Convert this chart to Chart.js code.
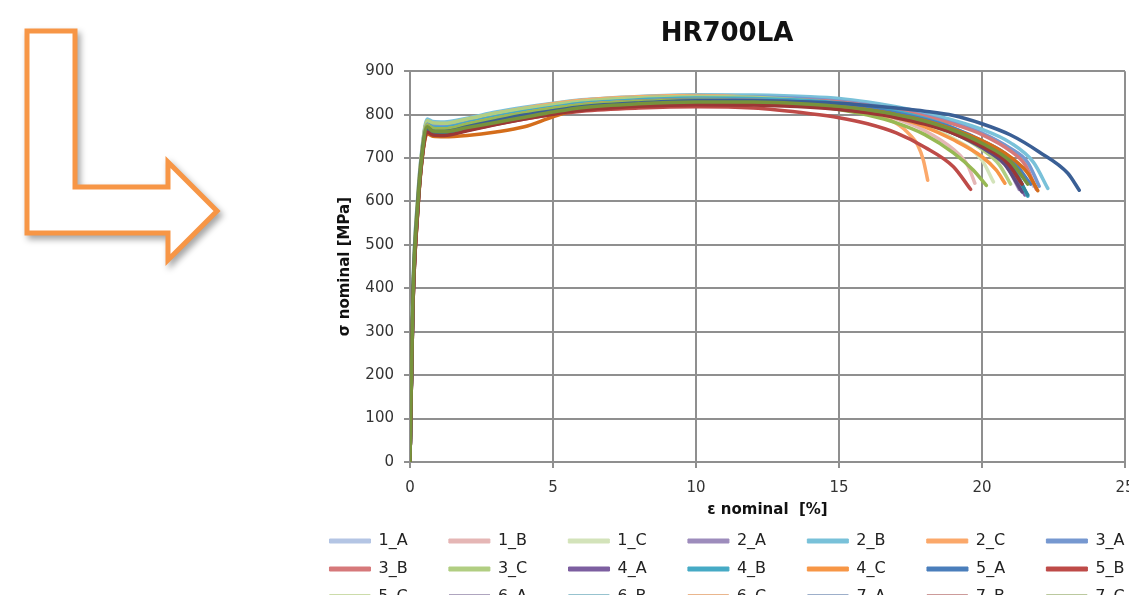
<!DOCTYPE html>
<html>
<head>
<meta charset="utf-8">
<script src="https://cdn.jsdelivr.net/npm/chart.js@4.4.1/dist/chart.umd.min.js"></script>
<style>
  html, body { margin: 0; padding: 0; width: 1129px; height: 595px; overflow: hidden; background: #fff; }
  #arrow { position: absolute; left: 0; top: 0; }
  #wrap { position: absolute; left: 277px; top: 0; width: 900px; height: 615px; }
</style>
</head>
<body>
<svg id="arrow" width="260" height="290">
  <polygon points="27,31 75,31 75,187 168,187 168,162 217,211 168,260 168,233 27,233"
    fill="#fff" stroke="#F79646" stroke-width="5" stroke-linejoin="miter"
    style="filter: drop-shadow(3px 4px 3px rgba(0,0,0,0.35))"/>
</svg>
<div id="wrap"><canvas id="chart"></canvas></div>
<script>
// series names (legend)
const seriesNames = ["1_A", "1_B", "1_C", "2_A", "2_B", "2_C", "3_A", "3_B", "3_C",
  "4_A", "4_B", "4_C", "5_A", "5_B", "5_C", "6_A", "6_B", "6_C", "7_A", "7_B", "7_C"];

const seriesColors = ["#B4C5E4", "#E5B6B5", "#D3E3BA", "#9D8CBC", "#79C1D9", "#FBA86A", "#7698D0",
  "#D6797A", "#B1CE82", "#7D5FA0", "#46AAC5", "#F79646", "#4A7EBB", "#BE4B48", "#98B954",
  "#5F4A7E", "#2F879E", "#D46D1B", "#3A5F95", "#9B3735", "#77933C"];

// x ticks / y ticks
const xTicks = [0, 5, 10, 15, 20, 25];
const yTicks = [0, 100, 200, 300, 400, 500, 600, 700, 800, 900];

// [strain %, stress MPa]
const s1A = [[0,0],[0.1,380],[0.27,600],[0.42,715],[0.6,786],[0.8,781],[1.2,780],[2,789],[3,802],[4,814],[5,824],[6,832],[8,840],[10,844],[12,843],[14,838],[15,833],[16,825],[17,814],[18,800],[19,782],[20,758],[21,720],[21.5,690],[21.8,635]];
const s1B = [[0,0],[0.1,370],[0.27,590],[0.42,710],[0.6,778],[0.8,771],[1.2,770],[2,781],[3,795],[4,807],[5,817],[6,826],[8,834],[10,838],[12,836],[14,828],[15,820],[16,808],[17,790],[18,763],[19,720],[19.5,683],[19.75,642]];
const s1C = [[0,0],[0.1,385],[0.27,605],[0.42,718],[0.6,784],[0.8,779],[1.2,778],[2,788],[3,801],[4,812],[5,822],[6,830],[8,838],[10,842],[12,840],[14,832],[15,825],[16,813],[17,797],[18,776],[19,745],[20,695],[20.4,645]];
const s2A = [[0,0],[0.1,360],[0.27,585],[0.42,705],[0.6,774],[0.8,766],[1.2,765],[2,776],[3,790],[4,802],[5,812],[6,821],[8,830],[10,834],[12,833],[14,827],[15,821],[16,812],[17,799],[18,783],[19,761],[20,728],[20.8,688],[21.3,628]];
const s2B = [[0,0],[0.1,390],[0.27,610],[0.42,722],[0.6,790],[0.8,784],[1.2,783],[2,792],[3,806],[4,817],[5,826],[6,834],[8,842],[10,846],[12,845],[14,841],[15,837],[16,829],[17,818],[18,804],[19,787],[20,766],[21,735],[21.8,690],[22.3,630]];
const s2C = [[0,0],[0.1,375],[0.27,600],[0.42,716],[0.6,785],[0.8,780],[1.2,779],[2,789],[3,803],[4,815],[5,825],[6,833],[8,841],[10,844],[12,840],[14,828],[15,818],[16,803],[17,780],[17.5,752],[17.75,730],[17.95,695],[18.1,649]];
const s3A = [[0,0],[0.1,380],[0.27,598],[0.42,712],[0.6,782],[0.8,776],[1.2,775],[2,785],[3,799],[4,811],[5,821],[6,829],[8,838],[10,842],[12,841],[14,836],[15,831],[16,823],[17,812],[18,798],[19,780],[20,757],[21,722],[21.6,690],[22,635]];
const s3B = [[0,0],[0.1,365],[0.27,590],[0.42,708],[0.6,776],[0.8,769],[1.2,768],[2,779],[3,793],[4,805],[5,815],[6,824],[8,833],[10,838],[12,837],[14,833],[15,829],[16,821],[17,810],[18,796],[19,778],[20,754],[21,716],[21.5,685],[21.9,628]];
const s3C = [[0,0],[0.1,385],[0.27,605],[0.42,718],[0.6,786],[0.8,781],[1.2,780],[2,790],[3,803],[4,814],[5,823],[6,831],[8,839],[10,842],[12,840],[14,832],[15,825],[16,815],[17,801],[18,783],[19,758],[20,720],[20.6,685],[21,640]];
const s4A = [[0,0],[0.1,360],[0.27,585],[0.42,705],[0.6,772],[0.8,764],[1.2,763],[2,774],[3,788],[4,800],[5,810],[6,819],[8,828],[10,832],[12,831],[14,826],[15,821],[16,813],[17,801],[18,785],[19,762],[20,728],[20.9,685],[21.5,615]];
const s4B = [[0,0],[0.1,370],[0.27,592],[0.42,710],[0.6,778],[0.8,771],[1.2,770],[2,781],[3,795],[4,807],[5,817],[6,826],[8,834],[10,838],[12,837],[14,832],[15,827],[16,819],[17,807],[18,791],[19,769],[20,737],[21,690],[21.6,612]];
const s4C = [[0,0],[0.1,372],[0.27,595],[0.42,710],[0.6,776],[0.8,768],[1.2,767],[2,778],[3,792],[4,804],[5,814],[6,823],[8,831],[10,835],[12,833],[14,826],[15,819],[16,808],[17,793],[18,772],[19,742],[20,703],[20.5,672],[20.8,642]];
const s5A = [[0,0],[0.1,375],[0.27,595],[0.42,708],[0.6,774],[0.8,766],[1.2,765],[2,776],[3,790],[4,802],[5,812],[6,821],[8,830],[10,834],[12,833],[14,828],[15,823],[16,815],[17,804],[18,789],[19,769],[20,740],[21,700],[21.7,640]];
const s5B = [[0,0],[0.1,355],[0.27,580],[0.42,700],[0.6,762],[0.8,755],[1.2,754],[2,764],[3,778],[4,790],[5,800],[6,808],[8,815],[10,818],[12,815],[14,802],[15,793],[16,779],[17,758],[18,725],[19,680],[19.6,628]];
const s5C = [[0,0],[0.1,370],[0.27,592],[0.42,708],[0.6,775],[0.8,768],[1.2,767],[2,778],[3,792],[4,804],[5,814],[6,822],[8,830],[10,833],[12,830],[14,820],[15,812],[16,799],[17,781],[18,754],[19,712],[19.7,672],[20.15,637]];
const s6A = [[0,0],[0.1,350],[0.27,578],[0.42,698],[0.6,763],[0.8,755],[1.2,754],[2,765],[3,780],[4,793],[5,804],[6,813],[8,822],[10,827],[12,826],[14,821],[15,816],[16,808],[17,796],[18,780],[19,757],[20,724],[20.8,685],[21.4,622]];
const s6B = [[0,0],[0.1,355],[0.27,582],[0.42,700],[0.6,765],[0.8,757],[1.2,756],[2,767],[3,782],[4,795],[5,806],[6,815],[8,824],[10,829],[12,828],[14,823],[15,818],[16,810],[17,798],[18,782],[19,760],[20,729],[21,683],[21.6,615]];
const s6C = [[0,0],[0.1,350],[0.27,575],[0.42,695],[0.6,756],[0.8,750],[1.2,749],[2,752],[3,760],[4,772],[4.8,790],[5.5,806],[6,812],[8,820],[10,826],[12,826],[14,822],[15,818],[16,811],[17,800],[18,786],[19,766],[20,740],[21,702],[21.6,665],[21.95,625]];
const s7A = [[0,0],[0.1,365],[0.27,588],[0.42,705],[0.6,770],[0.8,762],[1.2,761],[2,772],[3,786],[4,799],[5,809],[6,818],[8,827],[10,832],[12,832],[14,829],[15,826],[16,821],[17,815],[18,808],[19,798],[20,779],[21,753],[22,714],[23,665],[23.4,626]];
const s7B = [[0,0],[0.1,352],[0.27,578],[0.42,698],[0.6,760],[0.8,753],[1.2,752],[2,763],[3,777],[4,790],[5,801],[6,810],[8,819],[10,823],[12,822],[14,817],[15,812],[16,804],[17,793],[18,778],[19,757],[20,727],[20.9,688],[21.4,640]];
const s7C = [[0,0],[0.1,370],[0.27,590],[0.42,706],[0.6,772],[0.8,762],[1.2,761],[2,770],[3,782],[4,794],[5,806],[6,816],[8,825],[10,829],[12,829],[14,824],[15,819],[16,811],[17,800],[18,785],[19,764],[20,734],[21,692],[21.6,640]];

const allSeries = [s1A, s1B, s1C, s2A, s2B, s2C, s3A, s3B, s3C, s4A, s4B, s4C,
  s5A, s5B, s5C, s6A, s6B, s6C, s7A, s7B, s7C];

Chart.defaults.font.family = "'DejaVu Sans', sans-serif";
Chart.defaults.color = "#333";

const gridColor = "#8f8f8f";
const ctx = document.getElementById("chart").getContext("2d");

const datasets = allSeries.map((pts, i) => ({
  label: seriesNames[i],
  data: pts.map((p) => ({ x: p[0], y: p[1] })),
  borderColor: seriesColors[i],
  backgroundColor: seriesColors[i],
  borderWidth: 3.5,
  borderCapStyle: "round",
  borderJoinStyle: "round",
  pointRadius: 0,
  showLine: true,
  cubicInterpolationMode: "monotone",
  order: allSeries.length - 1 - i, // later series on top, like the original
}));

const chart = new Chart(ctx, {
  type: "scatter",
  data: { datasets: datasets },
  options: {
    responsive: true,
    maintainAspectRatio: false,
    animation: false,
    events: [],
    layout: { padding: 0 },
    plugins: {
      title: {
        display: true,
        text: "HR700LA",
        color: "#111",
        font: { size: 26, weight: "bold" },
        padding: { top: 19, bottom: 21 },
      },
      legend: {
        position: "bottom",
        labels: {
          font: { size: 16 },
          color: "#222",
          boxWidth: 41,
          boxHeight: 4,
          padding: 12,
          useBorderRadius: true,
          borderRadius: 2,
          // spaces keep the columns evenly spaced like the original
          generateLabels: (c) =>
            c.data.datasets.map((ds, i) => ({
              text: i % 7 === 6 ? ds.label : ds.label + "\u2003\u2002\u2004",
              fillStyle: ds.borderColor,
              strokeStyle: ds.borderColor,
              lineWidth: 1,
              fontColor: "#222",
              hidden: false,
              datasetIndex: i,
            })),
        },
      },
      tooltip: { enabled: false },
    },
    scales: {
      x: {
        type: "linear",
        min: 0,
        max: 25,
        afterBuildTicks: (s) => { s.ticks = xTicks.map((v) => ({ value: v })); },
        afterFit: (s) => { s.height = 59; },
        ticks: { font: { size: 15 }, color: "#333", padding: 11 },
        grid: { color: gridColor, lineWidth: 2, tickLength: 6 },
        border: { color: gridColor, width: 2 },
        title: {
          display: true,
          text: "ε nominal  [%]",
          color: "#111",
          font: { size: 15, weight: "bold" },
          padding: { top: 4, bottom: 2 },
        },
      },
      y: {
        type: "linear",
        position: "left",
        min: 0,
        max: 900,
        afterBuildTicks: (s) => { s.ticks = yTicks.map((v) => ({ value: v })); },
        afterFit: (s) => { s.width = 133; },
        ticks: { font: { size: 15 }, color: "#333", padding: 10 },
        grid: { color: gridColor, lineWidth: 2, tickLength: 6 },
        border: { color: gridColor, width: 2 },
        title: {
          display: true,
          text: "σ nominal [MPa]",
          color: "#111",
          font: { size: 15, weight: "bold" },
          padding: { top: 59, bottom: 11 },
        },
      },
      // empty right-hand scale, keeps the plot's right edge where the original has it
      yRight: {
        type: "linear",
        position: "right",
        display: true,
        ticks: { display: false },
        grid: { display: false, drawTicks: false },
        border: { display: false },
        afterFit: (s) => { s.width = 52; },
      },
    },
  },
});
</script>
</body>
</html>
